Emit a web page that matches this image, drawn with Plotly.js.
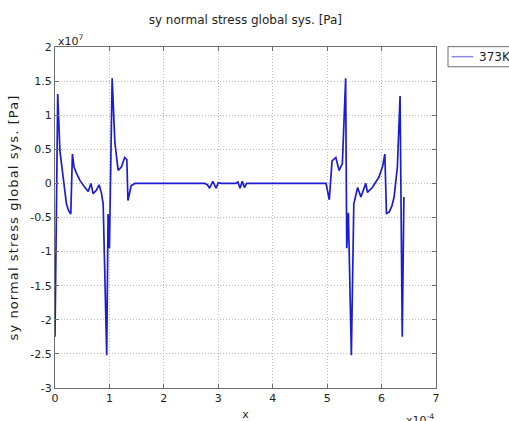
<!DOCTYPE html>
<html>
<head>
<meta charset="utf-8">
<script src="https://cdn.plot.ly/plotly-3.0.1.min.js"></script>
<style>
  html, body { margin: 0; padding: 0; background: #fff; }
  #chart { width: 509px; height: 421px; }
</style>
</head>
<body>
<div id="chart"></div>
<script>
// Position along the path, in units of 1e-4
const xPos = [
  0.00, 0.02, 0.05, 0.09, 0.15, 0.21, 0.25, 0.29, 0.32, 0.35, 0.40, 0.46,
  0.55, 0.61, 0.66, 0.70, 0.76, 0.81, 0.855, 0.885, 0.95, 0.975, 1.00, 1.05,
  1.10, 1.16, 1.22, 1.28, 1.32, 1.34, 1.40, 1.47,
  2.75, 2.80, 2.84, 2.90, 2.96, 3.00, 3.05,
  3.33, 3.36, 3.40, 3.44, 3.48, 3.52, 3.57,
  4.98, 5.04, 5.09, 5.16, 5.22, 5.28, 5.34, 5.36, 5.39, 5.445,
  5.49, 5.56, 5.62, 5.71, 5.74, 5.83, 5.95, 6.02, 6.06, 6.09, 6.14, 6.19,
  6.23, 6.29, 6.34, 6.38, 6.41
];
// sy normal stress, in units of 1e7 Pa
const syStress = [
  -2.25, -0.40, 1.31, 0.48, 0.04, -0.30, -0.40, -0.45, 0.43, 0.24, 0.14, 0.04,
  -0.06, -0.12, 0.00, -0.15, -0.10, -0.02, -0.15, -0.30, -2.52, -0.45, -0.95, 1.54,
  0.60, 0.19, 0.24, 0.38, 0.35, -0.25, -0.03, 0.00,
  0.00, -0.02, -0.07, 0.03, -0.07, 0.01, 0.00,
  0.00, 0.02, -0.07, 0.03, -0.06, 0.00, 0.00,
  0.00, -0.24, 0.33, 0.38, 0.19, 0.29, 1.54, -0.95, -0.43, -2.52,
  -0.30, -0.06, -0.20, 0.00, -0.13, -0.06, 0.09, 0.25, 0.43, -0.44, -0.42, -0.33,
  -0.20, 0.24, 1.28, -2.25, -0.20
];

const seriesName = '373K';
const xTickVals = [0, 1, 2, 3, 4, 5, 6, 7];
const xTickText = ['0', '1', '2', '3', '4', '5', '6', '7'];
const yTickVals = [2, 1.5, 1, 0.5, 0, -0.5, -1, -1.5, -2, -2.5, -3];
const yTickText = ['2', '1.5', '1', '0.5', '0', '-0.5', '-1', '-1.5', '-2', '-2.5', '-3'];

const titleText = 'sy normal stress global sys. [Pa]';
const family = 'DejaVu Sans, Verdana, sans-serif';
const ink = '#1e1e1e';
const font = { family: family, size: 11, color: ink };

const trace = {
  x: xPos,
  y: syStress,
  type: 'scatter',
  mode: 'lines',
  name: seriesName,
  line: { color: 'rgb(28,28,212)', width: 1.7 },
  showlegend: false
};

const axisCommon = {
  showline: true,
  mirror: 'ticks',
  linecolor: '#6e6e6e',
  linewidth: 1,
  ticks: 'inside',
  ticklen: 4,
  tickcolor: '#6e6e6e',
  showgrid: true,
  gridcolor: '#b8b8b8',
  griddash: '1px,2px',
  gridwidth: 1,
  zeroline: false,
  tickfont: font
};

// Boxed key in the right margin: frame, line sample and label
const keyShapes = [
  {
    type: 'rect', xref: 'paper', yref: 'paper',
    x0: 1.0315, x1: 1.197, y0: 1.001, y1: 0.942,
    line: { color: '#6e6e6e', width: 1 }, fillcolor: '#fff', layer: 'above'
  },
  {
    type: 'line', xref: 'paper', yref: 'paper',
    x0: 1.0412, x1: 1.098, y0: 0.9716, y1: 0.9716,
    line: { color: 'rgb(140,140,228)', width: 1.5 }, layer: 'above'
  }
];

const layout = {
  width: 509,
  height: 421,
  margin: { l: 55, r: 73, t: 47, b: 33, autoexpand: false },
  paper_bgcolor: '#fff',
  plot_bgcolor: '#fff',
  font: font,
  showlegend: false,
  title: {
    text: titleText,
    font: { family: family, size: 12, color: ink },
    x: 0.482, xanchor: 'center',
    y: 0.952, yanchor: 'middle'
  },
  xaxis: Object.assign({}, axisCommon, {
    range: [0, 7],
    tickmode: 'array',
    tickvals: xTickVals,
    ticktext: xTickText,
    title: { text: 'x', font: font, standoff: 8 }
  }),
  yaxis: Object.assign({}, axisCommon, {
    range: [-3, 2],
    tickmode: 'array',
    tickvals: yTickVals,
    ticktext: yTickText,
    title: { text: titleText, font: { family: family, size: 13, color: ink }, standoff: 8 }
  }),
  shapes: keyShapes,
  annotations: [
    {
      text: seriesName,
      xref: 'paper', yref: 'paper',
      x: 1.1068, xanchor: 'left',
      y: 0.9716, yanchor: 'middle',
      showarrow: false,
      font: { family: family, size: 12, color: ink }
    },
    {
      text: 'x10<sup>7</sup>',
      xref: 'paper', yref: 'paper',
      x: 0.003, xanchor: 'left',
      y: 1.0, yanchor: 'bottom',
      yshift: -3,
      showarrow: false,
      font: font
    },
    {
      text: 'x10<sup>-4</sup>',
      xref: 'paper', yref: 'paper',
      x: 1.0, xanchor: 'right',
      y: -0.064, yanchor: 'top',
      showarrow: false,
      font: font
    }
  ]
};

Plotly.newPlot('chart', [trace], layout, { displayModeBar: false, staticPlot: true })
  .then(function (gd) {
    // open up the spacing of the vertical axis title
    const yt = gd.querySelector('.ytitle');
    if (yt) yt.setAttribute('letter-spacing', '1.1px');
  });
</script>
</body>
</html>
